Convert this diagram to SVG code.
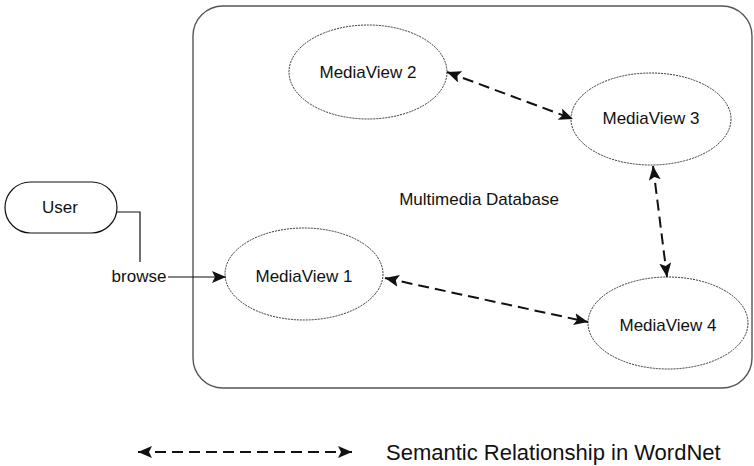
<svg xmlns="http://www.w3.org/2000/svg" width="754" height="466" viewBox="0 0 754 466">
  <defs>
    <marker id="head" viewBox="0 0 14 12" refX="14" refY="6" markerWidth="14" markerHeight="12" markerUnits="userSpaceOnUse" orient="auto-start-reverse">
      <path d="M0,0 L14,6 L0,12 L3,6 z" fill="#111"/>
    </marker>
    <style>
      text { font-family: "Liberation Sans", Arial, sans-serif; font-size: 17px; fill: #111; }
      .view { fill: #fff; stroke: #333; stroke-width: 1; stroke-dasharray: 2 1; }
      .rel { fill: none; stroke: #111; stroke-width: 2; stroke-dasharray: 11 6; }
      .solid { fill: none; stroke: #111; stroke-width: 1.2; }
    </style>
  </defs>
  <rect width="754" height="466" fill="#fff"/>

  <!-- database boundary -->
  <g id="database">
    <rect x="193" y="6" width="559" height="382" rx="30" ry="30" fill="none" stroke="#555" stroke-width="1.4"/>
    <text x="479" y="205" text-anchor="middle">Multimedia Database</text>
  </g>

  <g id="user">
    <rect x="5" y="182" width="112" height="51" rx="25.5" ry="25.5" fill="#fff" stroke="#111" stroke-width="1.2"/>
    <text x="60" y="213" text-anchor="middle">User</text>
  </g>

  <g id="mv1">
    <ellipse class="view" cx="304" cy="274" rx="79" ry="46"/>
    <text x="304" y="282" text-anchor="middle">MediaView 1</text>
  </g>
  <g id="mv2">
    <ellipse class="view" cx="368" cy="72" rx="79" ry="47"/>
    <text x="368" y="78" text-anchor="middle">MediaView 2</text>
  </g>
  <g id="mv3">
    <ellipse class="view" cx="651" cy="119" rx="80" ry="46"/>
    <text x="651" y="124" text-anchor="middle">MediaView 3</text>
  </g>
  <g id="mv4">
    <ellipse class="view" cx="668" cy="323" rx="80" ry="46"/>
    <text x="668" y="331" text-anchor="middle">MediaView 4</text>
  </g>

  <g id="connectors">
    <path class="solid" d="M117,212 H140 V262"/>
    <text x="139" y="282" text-anchor="middle">browse</text>
    <path class="solid" d="M168,277 H226" marker-end="url(#head)"/>
    <line class="rel" x1="447" y1="72" x2="573" y2="119" marker-start="url(#head)" marker-end="url(#head)"/>
    <line class="rel" x1="653" y1="166" x2="667" y2="277" marker-start="url(#head)" marker-end="url(#head)"/>
    <line class="rel" x1="385" y1="278" x2="588" y2="322" marker-start="url(#head)" marker-end="url(#head)"/>
  </g>

  <g id="legend">
    <line class="rel" x1="138" y1="452" x2="352" y2="452" stroke-width="1.6" stroke-dasharray="10 7" marker-start="url(#head)" marker-end="url(#head)"/>
    <text x="386" y="460" style="font-size:22px">Semantic Relationship in WordNet</text>
  </g>
</svg>
